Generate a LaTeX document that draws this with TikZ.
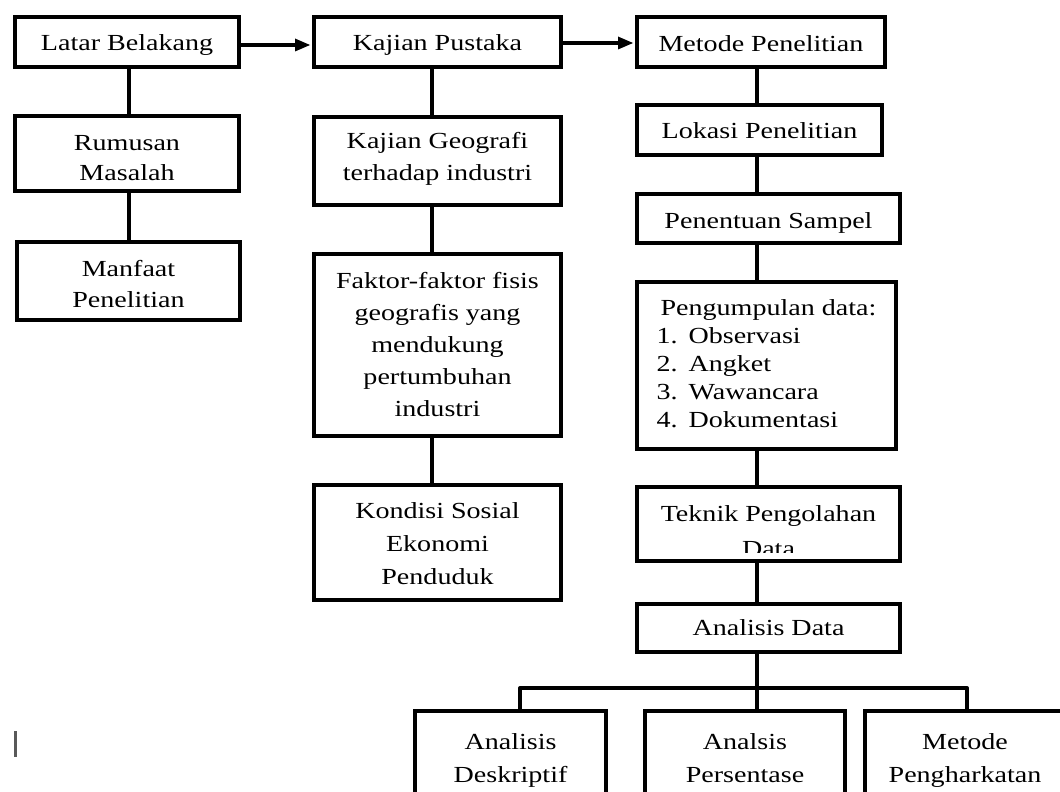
\documentclass[tikz,border=0pt]{standalone}
\usepackage{fontspec}
\setmainfont[FakeStretch=1.22]{Liberation Serif}
\newcommand\topr[1]{\rule{0pt}{#1pt}}
\newcommand\botr[1]{\rule[-#1pt]{0pt}{#1pt}}
\begin{document}
\begin{tikzpicture}[x=1pt,y=1pt]
\tikzstyle{every node}+=[inner sep=0pt]
\tikzstyle{frame}=[draw=black, line width=4pt, align=center, font=\fontsize{23}{32}\selectfont]
\tikzstyle{box}=[frame, execute at begin node=\strut, execute at end node=\strut]
\tikzstyle{sink}=[execute at begin node={\strut\rule{0pt}{#1pt}}]
\tikzstyle{link}=[draw=black, line width=4pt, line join=round]
\useasboundingbox (0,0) rectangle (1060,-792);
\clip (0,0) rectangle (1060,-792);
% spines of the three columns
\coordinate (spineA) at (129,0);
\coordinate (spineB) at (432,0);
\coordinate (spineC) at (757,0);
\coordinate (dropA) at (520,-688);
\coordinate (dropC) at (967,-688);
% column 1
\node [box, sink=26.4, minimum width=224, minimum height=50] (latar) at (127,-42) {Latar Belakang};
\node [frame, minimum width=224, minimum height=75, font=\fontsize{23}{30}\selectfont] (rumusan) at (127,-153.5) {\topr{32}Rumusan\\Masalah\botr{8}};
\node [frame, minimum width=223, minimum height=78, font=\fontsize{23}{31}\selectfont] (manfaat) at (128.5,-281) {\topr{29}Manfaat\\Penelitian\botr{8}};
% column 2
\node [box, sink=26.4, minimum width=247, minimum height=50] (kajian) at (437.5,-42) {Kajian Pustaka};
\node [frame, minimum width=247, minimum height=88] (geografi) at (437.5,-161) {\topr{18}Kajian Geografi\\terhadap industri\botr{12}};
\node [frame, minimum width=247, minimum height=182] (faktor) at (437.5,-345) {\topr{22}Faktor-faktor fisis\\geografis yang\\mendukung\\pertumbuhan\\industri\botr{8}};
\node [frame, minimum width=247, minimum height=115, font=\fontsize{23}{33}\selectfont] (kondisi) at (437.5,-542.5) {\topr{26}Kondisi Sosial\\Ekonomi\\Penduduk\botr{8}};
% column 3
\node [box, sink=28.4, minimum width=248, minimum height=50] (metode) at (761,-42) {Metode Penelitian};
\node [box, sink=26.4, minimum width=245, minimum height=50] (lokasi) at (759.5,-130) {Lokasi Penelitian};
\node [box, sink=30.4, minimum width=263, minimum height=49] (sampel) at (768.5,-218.5) {Penentuan Sampel};
\node [frame, minimum width=259, minimum height=167, align=left, font=\fontsize{23}{28}\selectfont] (kumpul) at (766.5,-365.5) {\topr{19}\hspace*{4pt}Pengumpulan data:\\\makebox[32pt][l]{1.}Observasi\\\makebox[32pt][l]{2.}Angket\\\makebox[32pt][l]{3.}Wawancara\\\makebox[32pt][l]{4.}Dokumentasi\botr{8}};
\node [frame, minimum width=263, minimum height=74] (teknik) at (768.5,-524) {};
\begin{scope}
\clip (teknik.north west) rectangle (teknik.east |- 0,-552);
\node [align=center, font=\fontsize{23}{35}\selectfont] (teknikText) at (768.5,-531.5) {Teknik Pengolahan\\Data};
\end{scope}
\node [box, sink=24.4, minimum width=263, minimum height=48] (analisis) at (768.5,-628) {Analisis Data};
% bottom row
\node [frame, minimum width=191, minimum height=93, font=\fontsize{23}{33}\selectfont] (deskriptif) at (510.5,-757.5) {\topr{24}Analisis\\Deskriptif\botr{8}};
\node [frame, minimum width=200, minimum height=93, font=\fontsize{23}{33}\selectfont] (persentase) at (745,-757.5) {\topr{24}Analsis\\Persentase\botr{8}};
\node [frame, minimum width=200, minimum height=93, font=\fontsize{23}{33}\selectfont] (pengharkatan) at (965,-757.5) {\topr{24}Metode\\Pengharkatan\botr{8}};
% arrows along the top
\draw [link] ([yshift=-3pt]latar.east) -- ([xshift=-15pt,yshift=-3pt]kajian.west);
\fill [black] ([xshift=-2pt,yshift=-3pt]kajian.west) -- ++(-15,6.5) -- ++(0,-13) -- cycle;
\draw [link] ([yshift=-1pt]kajian.east) -- ([xshift=-15pt,yshift=-1pt]metode.west);
\fill [black] ([xshift=-2pt,yshift=-1pt]metode.west) -- ++(-15,6.5) -- ++(0,-13) -- cycle;
% vertical links
\draw [link] (latar.south -| spineA) -- (rumusan.north -| spineA);
\draw [link] (rumusan.south -| spineA) -- (manfaat.north -| spineA);
\draw [link] (kajian.south -| spineB) -- (geografi.north -| spineB);
\draw [link] (geografi.south -| spineB) -- (faktor.north -| spineB);
\draw [link] (faktor.south -| spineB) -- (kondisi.north -| spineB);
\draw [link] (metode.south -| spineC) -- (lokasi.north -| spineC);
\draw [link] (lokasi.south -| spineC) -- (sampel.north -| spineC);
\draw [link] (sampel.south -| spineC) -- (kumpul.north -| spineC);
\draw [link] (kumpul.south -| spineC) -- (teknik.north -| spineC);
\draw [link] (teknik.south -| spineC) -- (analisis.north -| spineC);
\draw [link] (analisis.south -| spineC) -- (persentase.north -| spineC);
\draw [link] (deskriptif.north -| dropA) -- (dropA) -- (dropC) -- (pengharkatan.north -| dropC);
% cursor mark
\draw [black!65, line width=3pt] (15,-731) -- (15,-757);
\end{tikzpicture}
\end{document}
